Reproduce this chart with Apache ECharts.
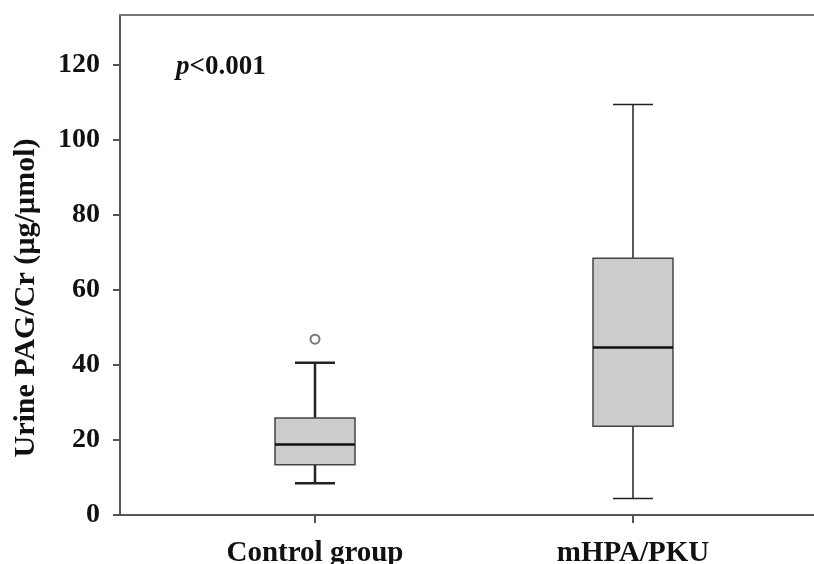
<!DOCTYPE html>
<html>
<head>
<meta charset="utf-8">
<script src="https://cdn.jsdelivr.net/npm/echarts@6/dist/echarts.min.js"></script>
<style>
  html, body { margin: 0; padding: 0; background: #fff; }
  #chart { width: 814px; height: 564px; }
</style>
</head>
<body>
<div id="chart"></div>
<script>
// box plot values
const groups = ['Control group', 'mHPA/PKU'];
const groupPos = [1, 2];
const whiskerLow = [8.5, 4.4];
const q1 = [13.4, 23.7];
const median = [18.8, 44.7];
const q3 = [25.9, 68.5];
const whiskerHigh = [40.6, 109.5];
const outliers = [[1, 46.9]];
const yTicks = [0, 20, 40, 60, 80, 100, 120];

const FONT = 'Liberation Serif';
const X_MIN = 1 - 195 / 318;
const X_MAX = 2 + 181 / 318;

const boxData = groupPos.map((x, i) => [x, whiskerLow[i], q1[i], median[i], q3[i], whiskerHigh[i]]);

function renderBox(params, api) {
  const x = api.value(0);
  const pLow = api.coord([x, api.value(1)]);
  const pQ1 = api.coord([x, api.value(2)]);
  const pMed = api.coord([x, api.value(3)]);
  const pQ3 = api.coord([x, api.value(4)]);
  const pHigh = api.coord([x, api.value(5)]);
  const boxHalf = 40;
  const capHalf = 20;
  const cx = pMed[0];
  const wLine = params.dataIndex === 0 ? 2.5 : 1.5;
  const wStroke = { stroke: '#222', lineWidth: wLine };
  return {
    type: 'group',
    children: [
      { type: 'line', shape: { x1: cx, y1: pQ3[1], x2: cx, y2: pHigh[1] }, style: wStroke },
      { type: 'line', shape: { x1: cx, y1: pLow[1], x2: cx, y2: pQ1[1] }, style: wStroke },
      { type: 'line', shape: { x1: cx - capHalf, y1: pHigh[1], x2: cx + capHalf, y2: pHigh[1] }, style: wStroke },
      { type: 'line', shape: { x1: cx - capHalf, y1: pLow[1], x2: cx + capHalf, y2: pLow[1] }, style: wStroke },
      {
        type: 'rect',
        shape: { x: cx - boxHalf, y: pQ3[1], width: boxHalf * 2, height: pQ1[1] - pQ3[1] },
        style: { fill: '#cccccc', stroke: '#444', lineWidth: 1.5 }
      },
      { type: 'line', shape: { x1: cx - boxHalf, y1: pMed[1], x2: cx + boxHalf, y2: pMed[1] }, style: { stroke: '#111', lineWidth: 2.5 } }
    ]
  };
}

const chart = echarts.init(document.getElementById('chart'), null, { renderer: 'canvas' });

chart.setOption({
  backgroundColor: '#fff',
  animation: false,
  grid: {
    left: 120,
    top: 15,
    right: 0,
    bottom: 49,
    show: false,
    containLabel: false,
    outerBoundsMode: 'none'
  },
  xAxis: [
    {
      type: 'value',
      min: X_MIN,
      max: X_MAX,
      splitLine: { show: false },
      axisLine: { show: true, onZero: false, lineStyle: { color: '#555', width: 2 } },
      axisTick: { show: true, customValues: groupPos, length: 8, lineStyle: { color: '#555', width: 2 } },
      axisLabel: {
        customValues: groupPos,
        formatter: v => groups[Math.round(v) - 1],
        margin: 24,
        color: '#111',
        fontFamily: FONT,
        fontWeight: 'bold',
        fontSize: 29
      }
    },
    {
      // top frame line only
      type: 'value',
      position: 'top',
      min: X_MIN,
      max: X_MAX,
      splitLine: { show: false },
      axisLine: { show: true, onZero: false, lineStyle: { color: '#777', width: 2 } },
      axisTick: { show: false },
      axisLabel: { show: false }
    }
  ],
  yAxis: {
    type: 'value',
    min: 0,
    max: 50 * 8 / 3,
    splitLine: { show: false },
    axisLine: { show: true, lineStyle: { color: '#555', width: 2 } },
    axisTick: { show: true, customValues: yTicks, length: 7, lineStyle: { color: '#555', width: 2 } },
    axisLabel: {
      customValues: yTicks,
      margin: 20,
      color: '#111',
      fontFamily: FONT,
      fontWeight: 'bold',
      fontSize: 28
    }
  },
  graphic: [
    {
      type: 'text',
      x: 26,
      y: 298,
      rotation: Math.PI / 2,
      style: {
        text: 'Urine PAG/Cr (µg/µmol)',
        fontFamily: FONT,
        fontWeight: 'bold',
        fontSize: 30,
        fill: '#111',
        align: 'center',
        verticalAlign: 'middle'
      }
    },
    {
      type: 'text',
      x: 176,
      y: 67,
      style: {
        text: '{i|p}{b|<0.001}',
        verticalAlign: 'middle',
        rich: {
          i: { fontFamily: FONT, fontStyle: 'italic', fontWeight: 'bold', fontSize: 27, fill: '#111' },
          b: { fontFamily: FONT, fontWeight: 'bold', fontSize: 27, fill: '#111' }
        }
      }
    }
  ],
  series: [
    {
      type: 'custom',
      renderItem: renderBox,
      data: boxData,
      encode: { x: 0, y: [1, 2, 3, 4, 5] },
      z: 3
    },
    {
      type: 'scatter',
      data: outliers,
      symbol: 'circle',
      symbolSize: 9,
      itemStyle: { color: '#ffffff', borderColor: '#777777', borderWidth: 2, opacity: 1 },
      z: 4
    }
  ]
});
</script>
</body>
</html>
